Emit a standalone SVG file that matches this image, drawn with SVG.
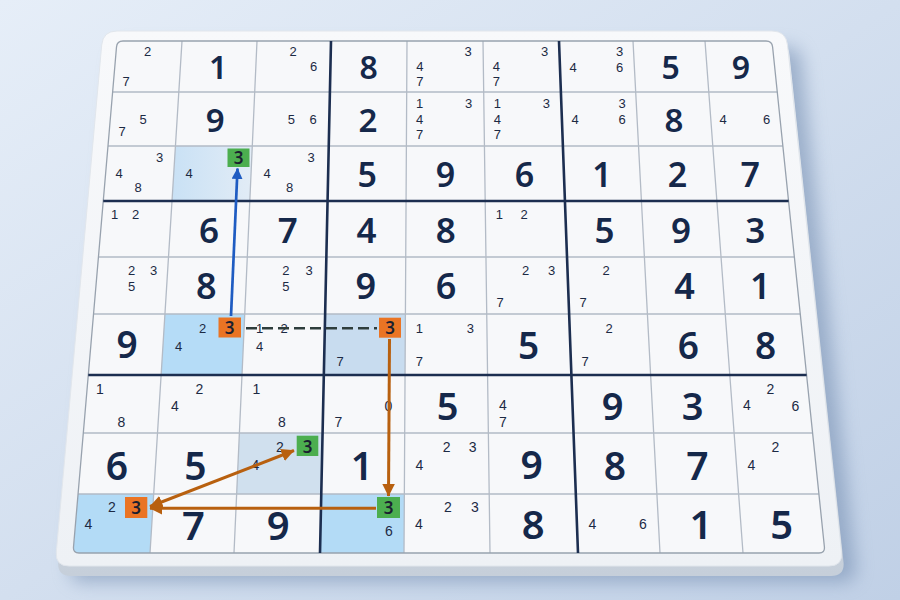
<svg xmlns="http://www.w3.org/2000/svg" width="900" height="600" viewBox="0 0 900 600">
<defs>
<linearGradient id="bg" x1="0" y1="0" x2="1" y2="1"><stop offset="0" stop-color="#e6eef8"/><stop offset="1" stop-color="#c0d0e6"/></linearGradient>
<linearGradient id="face" x1="0" y1="0" x2="0" y2="1"><stop offset="0" stop-color="#f8f9fb"/><stop offset="1" stop-color="#eef1f5"/></linearGradient>
<linearGradient id="edge" x1="0" y1="0" x2="0" y2="1"><stop offset="0" stop-color="#e6eaef"/><stop offset="1" stop-color="#c6cfda"/></linearGradient>
<linearGradient id="hlLight" x1="0" y1="0" x2="1" y2="0"><stop offset="0" stop-color="#c9e1f5"/><stop offset="1" stop-color="#e2ecf6"/></linearGradient>
<filter id="shadow" x="-10%" y="-10%" width="130%" height="130%"><feGaussianBlur stdDeviation="9"/></filter>
<clipPath id="gridClip"><path d="M123,41 L766,41 Q772,41 772.6,47 L824.4,547 Q825,553 819,553 L79,553 Q73,553 73.5,547 L116.5,47 Q117,41 123,41 Z"/></clipPath>
<marker id="ahB" viewBox="0 0 10 10" refX="9.5" refY="5" markerWidth="11" markerHeight="11" markerUnits="userSpaceOnUse" orient="auto"><path d="M0,0 L10,5 L0,10 z" fill="#1f5cc2"/></marker>
<marker id="ahO" viewBox="0 0 12 12" refX="11.5" refY="6" markerWidth="13" markerHeight="13" markerUnits="userSpaceOnUse" orient="auto-start-reverse"><path d="M0,0 L12,6 L0,12 z" fill="#b8600f"/></marker>
<style>
.b{font-family:"Noto Sans","Liberation Sans",sans-serif;font-weight:600;fill:#15284a;text-anchor:middle;dominant-baseline:central}
.s{font-family:"Liberation Sans",Arial,sans-serif;font-weight:400;fill:#1c2a44;text-anchor:middle;dominant-baseline:central;font-size:13px}
.row7 .s,.row8 .s,.row9 .s{font-size:14px}
.row1 .b{font-size:32px}.row2 .b{font-size:33px}.row3 .b{font-size:34px}.row4 .b{font-size:35px}.row5 .b{font-size:36px}.row6 .b{font-size:37px}.row7 .b{font-size:38px}.row8 .b{font-size:39px}.row9 .b{font-size:40px}
.bt{font-family:"Noto Sans","Liberation Sans",sans-serif;font-weight:600;fill:#1a2030;text-anchor:middle;dominant-baseline:central;font-size:17px}
.og{fill:#ea7424}.gr{fill:#4cae4f}
.thin{stroke:#b3bbc6;stroke-width:1.3;fill:none}
.thick{stroke:#1c2e50;stroke-width:2.6;fill:none}
.ol{stroke:#b8600f;stroke-width:3;fill:none}
</style>
</defs>
<rect width="900" height="600" fill="url(#bg)"/>
<g id="board">
<path d="M117,31 L772,31 Q786,31 787.5,45 L841.5,552 Q843,566 829,566 L69,566 Q55,566 56.3,552 L101.7,45 Q103,31 117,31 Z" fill="#6f89ad" opacity="0.55" filter="url(#shadow)" transform="translate(14,16)"/>
<path d="M117,31 L772,31 Q786,31 787.5,45 L841.5,552 Q843,566 829,566 L69,566 Q55,566 56.3,552 L101.7,45 Q103,31 117,31 Z" fill="url(#edge)" transform="translate(2,10)"/>
<path d="M117,31 L772,31 Q786,31 787.5,45 L841.5,552 Q843,566 829,566 L69,566 Q55,566 56.3,552 L101.7,45 Q103,31 117,31 Z" fill="url(#face)" stroke="#e1e6ec" stroke-width="1"/>
<path d="M123,41 L766,41 Q772,41 772.6,47 L824.4,547 Q825,553 819,553 L79,553 Q73,553 73.5,547 L116.5,47 Q117,41 123,41 Z" fill="#f7f8fa"/>
</g>
<g id="cells">
<g class="row1">
<g id="r1c1"><text class="s" x="147.6" y="51.7">2</text><text class="s" x="126" y="81.3">7</text></g>
<g id="r1c2"><text class="b" x="218.2" y="66.5">1</text></g>
<g id="r1c3"><text class="s" x="293.2" y="51.7">2</text><text class="s" x="313.5" y="66.5">6</text></g>
<g id="r1c4"><text class="b" x="368.7" y="66.5">8</text></g>
<g id="r1c5"><text class="s" x="468" y="51.7">3</text><text class="s" x="419.9" y="66.5">4</text><text class="s" x="419.9" y="81.3">7</text></g>
<g id="r1c6"><text class="s" x="544.6" y="51.7">3</text><text class="s" x="496.3" y="66.5">4</text><text class="s" x="496.3" y="81.3">7</text></g>
<g id="r1c7"><text class="s" x="573" y="67">4</text><text class="s" x="619.6" y="51.7">3</text><text class="s" x="619.6" y="67">6</text></g>
<g id="r1c8"><text class="b" x="670.6" y="66.5">5</text></g>
<g id="r1c9"><text class="b" x="740.8" y="66.5">9</text></g>
</g>
<g class="row2">
<g id="r2c1"><text class="s" x="143" y="119">5</text><text class="s" x="122" y="131.5">7</text></g>
<g id="r2c2"><text class="b" x="215.3" y="119">9</text></g>
<g id="r2c3"><text class="s" x="291.4" y="119">5</text><text class="s" x="313" y="119">6</text></g>
<g id="r2c4"><text class="b" x="367.9" y="119">2</text></g>
<g id="r2c5"><text class="s" x="419.7" y="103.3">1</text><text class="s" x="468.6" y="103.3">3</text><text class="s" x="419.7" y="119">4</text><text class="s" x="419.7" y="134.7">7</text></g>
<g id="r2c6"><text class="s" x="497.3" y="103.3">1</text><text class="s" x="546.3" y="103.3">3</text><text class="s" x="497.3" y="119">4</text><text class="s" x="497.3" y="134.7">7</text></g>
<g id="r2c7"><text class="s" x="622" y="103">3</text><text class="s" x="575" y="119.5">4</text><text class="s" x="622" y="119">6</text></g>
<g id="r2c8"><text class="b" x="674" y="119">8</text></g>
<g id="r2c9"><text class="s" x="723" y="119">4</text><text class="s" x="766.5" y="119">6</text></g>
</g>
<g class="row3">
<g id="r3c1"><text class="s" x="159.5" y="157">3</text><text class="s" x="119" y="173.5">4</text><text class="s" x="138" y="187.5">8</text></g>
<g id="r3c2"><polygon points="175.4,146 252.3,146 249.8,201 172,201" fill="url(#hlLight)"/><text class="s" x="189" y="173.5">4</text><rect class="gr" x="227.5" y="148.5" width="22" height="18.5"/><text class="bt" x="238.5" y="157.8">3</text></g>
<g id="r3c3"><text class="s" x="311" y="157">3</text><text class="s" x="267" y="173.5">4</text><text class="s" x="289.5" y="187.5">8</text></g>
<g id="r3c4"><text class="b" x="367.2" y="173.5">5</text></g>
<g id="r3c5"><text class="b" x="445.5" y="173.5">9</text></g>
<g id="r3c6"><text class="b" x="524.4" y="173.5">6</text></g>
<g id="r3c7"><text class="b" x="602" y="173.5">1</text></g>
<g id="r3c8"><text class="b" x="677.4" y="173.5">2</text></g>
<g id="r3c9"><text class="b" x="750.3" y="173.5">7</text></g>
</g>
<g class="row4">
<g id="r4c1"><text class="s" x="114.5" y="214.5">1</text><text class="s" x="135.5" y="214.5">2</text></g>
<g id="r4c2"><text class="b" x="209" y="229.5">6</text></g>
<g id="r4c3"><text class="b" x="287.8" y="229.5">7</text></g>
<g id="r4c4"><text class="b" x="366.5" y="229.5">4</text></g>
<g id="r4c5"><text class="b" x="445.8" y="229.5">8</text></g>
<g id="r4c6"><text class="s" x="499.3" y="214.5">1</text><text class="s" x="524" y="214.5">2</text></g>
<g id="r4c7"><text class="b" x="604.5" y="229.5">5</text></g>
<g id="r4c8"><text class="b" x="681" y="229.5">9</text></g>
<g id="r4c9"><text class="b" x="755.3" y="229.5">3</text></g>
</g>
<g class="row5">
<g id="r5c1"><text class="s" x="131.5" y="270">2</text><text class="s" x="153.5" y="270">3</text><text class="s" x="131.5" y="286.5">5</text></g>
<g id="r5c2"><text class="b" x="206.4" y="285.5">8</text></g>
<g id="r5c3"><text class="s" x="285.9" y="270">2</text><text class="s" x="309" y="270">3</text><text class="s" x="285.9" y="286.5">5</text></g>
<g id="r5c4"><text class="b" x="365.7" y="285.5">9</text></g>
<g id="r5c5"><text class="b" x="446" y="285.5">6</text></g>
<g id="r5c6"><text class="s" x="525.5" y="270.5">2</text><text class="s" x="551.5" y="270.5">3</text><text class="s" x="500.2" y="302">7</text></g>
<g id="r5c7"><text class="s" x="606" y="270.5">2</text><text class="s" x="583" y="302">7</text></g>
<g id="r5c8"><text class="b" x="684.5" y="285.5">4</text></g>
<g id="r5c9"><text class="b" x="760.2" y="285.5">1</text></g>
</g>
<g class="row6">
<g id="r6c1"><text class="b" x="127" y="343">9</text></g>
<g id="r6c2"><polygon points="164.9,314 244.7,314 242,375 161.1,375" fill="#b5dcf7"/><text class="s" x="202.5" y="328">2</text><text class="s" x="178.5" y="346">4</text><rect class="og" x="218.5" y="317.5" width="22.5" height="20"/><text class="bt" x="229.7" y="327.7">3</text></g>
<g id="r6c3"><text class="s" x="259.5" y="328">1</text><text class="s" x="284" y="328">2</text><text class="s" x="259.5" y="346">4</text></g>
<g id="r6c4"><polygon points="325.1,314 405.4,314 405,375 323.8,375" fill="#c8dcef"/><text class="s" x="340" y="361.5">7</text><rect class="og" x="379" y="317.7" width="22" height="20"/><text class="bt" x="390" y="327.9">3</text></g>
<g id="r6c5"><text class="s" x="419.3" y="328">1</text><text class="s" x="470.3" y="328">3</text><text class="s" x="419.3" y="361.7">7</text></g>
<g id="r6c6"><text class="b" x="528.5" y="344.5">5</text></g>
<g id="r6c7"><text class="s" x="609" y="328">2</text><text class="s" x="585" y="361.7">7</text></g>
<g id="r6c8"><text class="b" x="688.3" y="344.5">6</text></g>
<g id="r6c9"><text class="b" x="765.5" y="344.5">8</text></g>
</g>
<g class="row7">
<g id="r7c1"><text class="s" x="100" y="389">1</text><text class="s" x="121.5" y="421.5">8</text></g>
<g id="r7c2"><text class="s" x="199.5" y="389">2</text><text class="s" x="175" y="406">4</text></g>
<g id="r7c3"><text class="s" x="256.5" y="389">1</text><text class="s" x="281.8" y="421.5">8</text></g>
<g id="r7c4"><text class="s" x="338.5" y="421.5">7</text><text class="s" x="388.4" y="406">0</text></g>
<g id="r7c5"><text class="b" x="447.5" y="405">5</text></g>
<g id="r7c6"><text class="s" x="503" y="404.5">4</text><text class="s" x="503" y="421.5">7</text></g>
<g id="r7c7"><text class="b" x="612.5" y="405">9</text></g>
<g id="r7c8"><text class="b" x="692.5" y="405">3</text></g>
<g id="r7c9"><text class="s" x="770.5" y="389">2</text><text class="s" x="747" y="405">4</text><text class="s" x="795.5" y="406">6</text></g>
</g>
<g class="row8">
<g id="r8c1"><text class="b" x="117" y="464.5">6</text></g>
<g id="r8c2"><text class="b" x="195.5" y="464.5">5</text></g>
<g id="r8c3"><polygon points="239.4,433 322.6,433 321.3,494 236.6,494" fill="#d0e0ee"/><text class="s" x="280" y="446.5">2</text><text class="s" x="255.5" y="465">4</text><rect class="gr" x="296.7" y="435.7" width="21.6" height="20.3"/><text class="bt" x="307.5" y="446">3</text></g>
<g id="r8c4"><text class="b" x="362" y="464.5">1</text></g>
<g id="r8c5"><text class="s" x="446.7" y="446.7">2</text><text class="s" x="472.7" y="446.7">3</text><text class="s" x="419.3" y="465">4</text></g>
<g id="r8c6"><text class="b" x="531.7" y="463">9</text></g>
<g id="r8c7"><text class="b" x="615" y="464">8</text></g>
<g id="r8c8"><text class="b" x="697.5" y="464">7</text></g>
<g id="r8c9"><text class="s" x="775.5" y="446.7">2</text><text class="s" x="751.5" y="465">4</text></g>
</g>
<g class="row9">
<g id="r9c1"><polygon points="78.1,494 153.7,494 150,553 73,553" fill="#b3dbf6" clip-path="url(#gridClip)"/><text class="s" x="112" y="507.3">2</text><text class="s" x="88.5" y="524">4</text><rect class="og" x="125" y="497" width="22.3" height="21"/><text class="bt" x="136.2" y="507.7">3</text></g>
<g id="r9c2"><text class="b" x="193.5" y="524">7</text></g>
<g id="r9c3"><text class="b" x="278.3" y="524">9</text></g>
<g id="r9c4"><polygon points="321.3,494 404.3,494 404,553 320,553" fill="#b3dbf6"/><rect class="gr" x="377" y="497" width="23" height="21"/><text class="bt" x="388.5" y="507.7">3</text><text class="s" x="389" y="531">6</text></g>
<g id="r9c5"><text class="s" x="448" y="506.7">2</text><text class="s" x="475" y="506.7">3</text><text class="s" x="419" y="524">4</text></g>
<g id="r9c6"><text class="b" x="533.3" y="523.5">8</text></g>
<g id="r9c7"><text class="s" x="592.5" y="524.3">4</text><text class="s" x="643" y="524.3">6</text></g>
<g id="r9c8"><text class="b" x="701" y="523.5">1</text></g>
<g id="r9c9"><text class="b" x="781.7" y="523.5">5</text></g>
</g>
</g>
<g id="gridlines">
<path class="thin" d="M112.6,92 L777.3,92 M108,146 L782.9,146 M98.4,257 L794.4,257 M93.5,314 L800.3,314 M83.3,433 L812.6,433 M78.1,494 L818.9,494 M182,41 L150,553 M257,41 L234,553 M407,41 L404,553 M483,41 L490,553 M633,41 L660,553 M705,41 L743,553"/>
<path d="M123,41 L766,41 Q772,41 772.6,47 L824.4,547 Q825,553 819,553 L79,553 Q73,553 73.5,547 L116.5,47 Q117,41 123,41 Z" fill="none" stroke="#98a2ae" stroke-width="1.3"/>
<path class="thick" d="M103.25,201 L788.6,201 M88.3,375 L806.6,375 M331,41 L320,553 M559,41 L578,553"/>
</g>
<g id="connectors">
<path d="M231,316 L237.5,168.5" stroke="#1f5cc2" stroke-width="2.7" fill="none" marker-end="url(#ahB)"/>
<path d="M246,328.3 L377,328.3" stroke="#2e3d3c" stroke-width="2.6" stroke-dasharray="11 5" fill="none"/>
<path class="ol" d="M389.5,339 L388.5,496" marker-end="url(#ahO)"/>
<path class="ol" d="M376,508.3 L150,508.3" marker-end="url(#ahO)"/>
<path class="ol" d="M150,506.5 L294,450.5" marker-start="url(#ahO)" marker-end="url(#ahO)"/>
</g>
</svg>
